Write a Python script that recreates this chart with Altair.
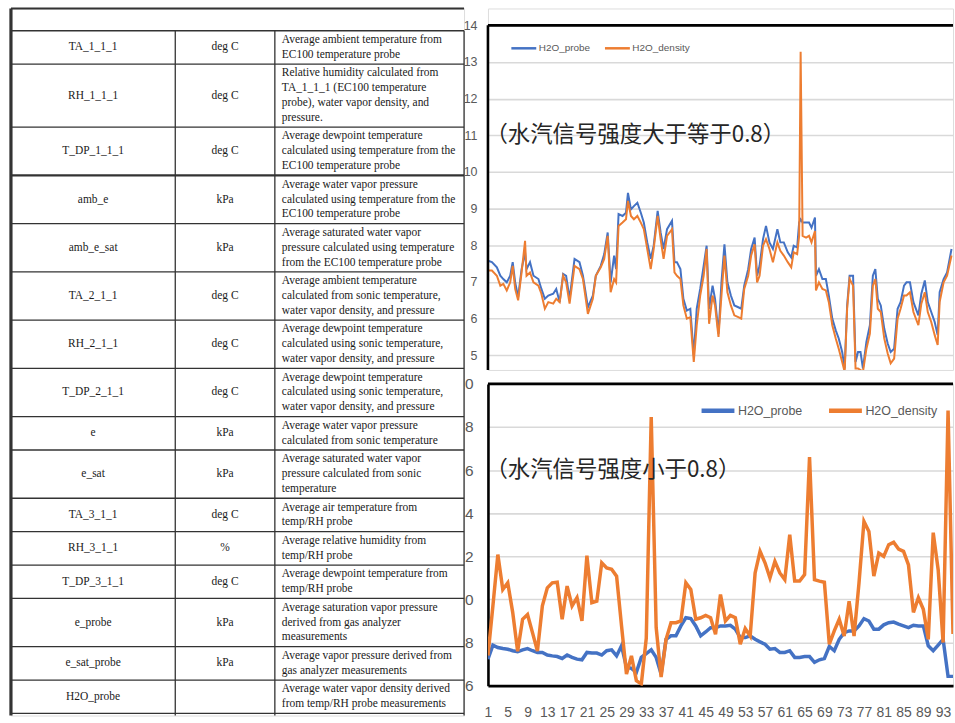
import altair as alt
import pandas as pd

# ---------------- variable table ----------------
NAMES = ["TA_1_1_1", "RH_1_1_1", "T_DP_1_1_1", "amb_e", "amb_e_sat", "TA_2_1_1",
         "RH_2_1_1", "T_DP_2_1_1", "e", "e_sat", "TA_3_1_1", "RH_3_1_1",
         "T_DP_3_1_1", "e_probe", "e_sat_probe", "H2O_probe"]
UNITS = ["deg C", "deg C", "deg C", "kPa", "kPa", "deg C", "deg C", "deg C",
         "kPa", "kPa", "deg C", "%", "deg C", "kPa", "kPa", ""]
DESCRIPTIONS = [
    ["Average ambient temperature from", "EC100 temperature probe"],
    ["Relative humidity calculated from", "TA_1_1_1 (EC100 temperature",
     "probe), water vapor density, and", "pressure."],
    ["Average dewpoint temperature", "calculated using temperature from the",
     "EC100 temperature probe"],
    ["Average water vapor pressure", "calculated using temperature from the",
     "EC100 temperature probe"],
    ["Average saturated water vapor", "pressure calculated using temperature",
     "from the EC100 temperature probe"],
    ["Average ambient temperature", "calculated from sonic temperature,",
     "water vapor density, and pressure"],
    ["Average dewpoint temperature", "calculated using sonic temperature,",
     "water vapor density, and pressure"],
    ["Average dewpoint temperature", "calculated using sonic temperature,",
     "water vapor density, and pressure"],
    ["Average water vapor pressure", "calculated from sonic temperature"],
    ["Average saturated water vapor", "pressure calculated from sonic",
     "temperature"],
    ["Average air temperature from", "temp/RH probe"],
    ["Average relative humidity from", "temp/RH probe"],
    ["Average dewpoint temperature from", "temp/RH probe"],
    ["Average saturation vapor pressure", "derived from gas analyzer",
     "measurements"],
    ["Average vapor pressure derived from", "gas analyzer measurements"],
    ["Average water vapor density derived", "from temp/RH probe measurements"],
]

# ---------------- signal strength >= 0.8 (dense record) ----------------
DAYS_HI = [1.0, 1.8, 2.8, 3.5, 4.1, 4.8, 5.5, 6.0, 6.5, 7.1, 7.8, 8.5, 8.8, 9.5,
           10.2, 11.2, 11.8, 12.5, 13.2, 14.2, 14.8, 15.5, 16.2, 16.8, 17.5, 18.5,
           19.5, 20.2, 21.2, 22.2, 22.8, 23.8, 24.5, 25.2, 25.8, 26.5, 26.9, 27.4,
           28.2, 28.9, 29.3, 29.9, 30.5, 31.2, 31.9, 32.5, 33.2, 33.9, 34.5, 35.3,
           35.9, 36.5, 37.2, 38.2, 38.7, 39.2, 39.9, 40.5, 41.2, 41.9, 42.6, 43.2,
           43.9, 44.6, 45.2, 45.7, 46.4, 46.9, 47.6, 48.2, 48.8, 49.4, 50.1, 50.8,
           51.6, 52.2, 52.8, 53.6, 54.2, 54.9, 55.4, 55.9, 56.6, 57.2, 57.9, 58.6,
           59.5, 60.1, 60.8, 61.6, 62.3, 62.8, 63.5, 63.9, 64.2, 64.6, 65.3, 65.9,
           66.4, 67.1, 67.3, 67.9, 68.6, 69.3, 69.9, 70.6, 71.3, 71.9, 72.6, 73.1,
           73.6, 74.1, 74.8, 75.3, 75.8, 76.3, 76.8, 77.5, 78.2, 78.8, 79.3, 79.8,
           80.4, 81.1, 81.8, 82.4, 83.1, 83.8, 84.4, 85.1, 85.6, 86.3, 87.0, 88.0,
           88.6, 89.3, 89.9, 90.6, 91.3, 91.9, 92.3, 93.1, 93.8, 94.7]
PROBE_HI = [7.58, 7.54, 7.40, 7.17, 7.08, 6.99, 7.17, 7.54, 6.99, 6.59, 7.35, 7.81,
            7.35, 7.54, 7.17, 7.08, 6.81, 6.54, 6.63, 6.68, 6.81, 6.45, 7.22, 7.17,
            6.54, 7.63, 7.54, 7.17, 6.31, 6.63, 7.17, 7.44, 7.76, 8.35, 6.99, 7.72,
            7.35, 8.85, 8.80, 8.89, 9.43, 8.98, 9.07, 9.16, 8.89, 8.62, 8.08, 7.63,
            7.99, 8.94, 8.35, 7.90, 8.44, 8.67, 7.54, 7.54, 7.35, 6.54, 6.22, 6.27,
            5.00, 6.27, 6.81, 7.44, 7.99, 6.27, 6.90, 6.54, 5.59, 6.99, 8.03, 6.99,
            6.63, 6.36, 6.31, 6.27, 6.90, 7.35, 7.90, 8.21, 7.17, 7.44, 8.17, 8.53,
            8.08, 7.90, 8.44, 8.08, 8.08, 7.81, 7.67, 7.99, 7.94, 8.62, 8.71, 8.62,
            8.62, 8.62, 8.48, 8.76, 7.17, 7.35, 7.08, 7.08, 6.63, 6.00, 5.68, 5.46,
            5.09, 4.64, 6.36, 7.17, 7.17, 4.82, 5.09, 5.09, 4.64, 5.37, 5.82, 7.17,
            7.35, 6.54, 6.36, 5.73, 5.32, 5.09, 5.18, 6.27, 6.45, 6.90, 6.99, 6.99,
            6.45, 6.09, 6.68, 7.04, 6.45, 6.18, 5.91, 5.55, 6.72, 7.08, 7.26, 7.90]
DENSITY_HI = [7.31, 7.31, 7.17, 6.90, 6.95, 6.77, 6.99, 7.44, 6.81, 6.50, 7.26, 8.12,
              7.17, 7.26, 6.99, 6.90, 6.68, 6.27, 6.45, 6.41, 6.54, 6.45, 7.17, 6.99,
              6.41, 7.44, 7.35, 7.08, 6.13, 6.54, 7.17, 7.40, 7.63, 8.26, 6.72, 7.08,
              6.99, 8.53, 8.62, 8.71, 9.21, 8.80, 8.71, 8.80, 8.62, 8.44, 7.90, 7.35,
              7.90, 8.80, 8.17, 7.63, 8.26, 8.44, 7.26, 7.17, 7.08, 6.36, 6.00, 6.04,
              4.82, 5.82, 6.63, 7.17, 7.90, 5.86, 6.63, 6.36, 5.50, 6.63, 7.72, 6.72,
              6.36, 6.09, 6.04, 6.00, 6.81, 7.17, 7.72, 8.03, 6.99, 7.17, 7.99, 8.17,
              7.90, 7.54, 8.08, 7.85, 7.72, 7.54, 7.40, 7.81, 7.76, 8.26, 13.28, 8.26,
              8.21, 8.26, 8.08, 8.39, 6.77, 6.99, 6.81, 6.77, 6.45, 5.82, 5.46, 5.18,
              4.82, 4.55, 6.27, 7.08, 6.90, 4.64, 4.64, 4.60, 4.55, 5.18, 5.59, 6.90,
              7.08, 6.27, 6.18, 5.46, 5.05, 4.78, 4.91, 6.00, 6.27, 6.63, 6.63, 6.72,
              6.18, 5.82, 6.41, 6.72, 6.18, 5.91, 5.55, 5.28, 6.45, 6.99, 7.17, 7.72]

# ---------------- signal strength < 0.8 (daily) ----------------
DAYS_LO = list(range(1, 96))
PROBE_LO = [7.23, 7.88, 7.77, 7.72, 7.69, 7.62, 7.57, 7.66, 7.72, 7.62, 7.54, 7.54,
            7.42, 7.38, 7.35, 7.26, 7.42, 7.31, 7.23, 7.20, 7.54, 7.51, 7.51, 7.42,
            7.62, 7.66, 7.38, 7.85, 6.85, 6.80, 6.62, 7.31, 7.49, 7.66, 7.31, 6.54,
            8.15, 8.31, 8.31, 8.77, 9.15, 9.11, 8.77, 8.31, 8.49, 8.69, 8.69, 8.77,
            8.77, 8.80, 8.62, 8.23, 8.23, 8.31, 8.15, 8.03, 7.92, 7.69, 7.72, 7.54,
            7.54, 7.62, 7.31, 7.31, 7.35, 7.35, 7.08, 7.20, 7.26, 7.82, 7.62, 8.15,
            8.46, 8.54, 8.54, 8.77, 9.11, 9.00, 8.62, 8.62, 8.82, 8.92, 8.95, 8.85,
            8.77, 8.69, 8.80, 8.77, 8.77, 7.85, 7.62, 7.88, 8.15, 6.43, 6.43]
DENSITY_LO = [7.40, 9.70, 12.08, 10.46, 10.77, 9.40, 7.60, 9.08, 9.30, 8.46, 7.60, 9.70,
              10.54, 10.77, 10.80, 9.08, 10.62, 9.70, 10.08, 9.00, 12.03, 9.85, 9.92,
              11.70, 11.46, 11.40, 11.08, 8.77, 6.54, 7.38, 6.23, 6.08, 8.20, 18.46,
              8.70, 6.40, 8.15, 8.92, 8.92, 9.00, 10.77, 10.46, 9.08, 9.15, 9.26, 9.15,
              8.38, 10.23, 9.00, 9.26, 9.15, 7.92, 8.65, 8.30, 11.23, 12.23, 11.70,
              11.00, 11.77, 11.23, 10.92, 13.00, 10.85, 10.85, 11.15, 16.60, 10.92,
              10.85, 10.80, 7.92, 8.54, 9.08, 8.30, 9.92, 8.30, 10.77, 13.62, 13.15,
              11.08, 12.15, 12.00, 12.54, 12.65, 12.34, 12.23, 11.60, 9.40, 10.08,
              9.54, 8.15, 13.10, 11.38, 8.00, 18.77, 8.40]

SERIES = ["H2O_probe", "H2O_density"]
COLORS = ["#4472C4", "#ED7D31"]
NOTE_HI = "（水汽信号强度大于等于0.8）"
NOTE_LO = "（水汽信号强度小于0.8）"
Y_TICKS_HI = list(range(5, 15))
Y_TICKS_LO = list(range(6, 21, 2))
X_TICKS_LO = list(range(1, 95, 4))

assert len(DAYS_HI) == len(PROBE_HI) == len(DENSITY_HI)
assert len(DAYS_LO) == len(PROBE_LO) == len(DENSITY_LO)

SANS = "Liberation Sans, Arial, sans-serif"
SERIF = "Liberation Serif, Times New Roman, serif"
CJK = "Noto Sans CJK SC"
AXIS_GREY = "#595959"
GRID_GREY = "#d9d9d9"

# ---------------- table geometry (in text-line units) ----------------
HEADER_GAP = 1.5      # blank band above the first row
ROW_PAD = 0.25        # vertical padding added to every row
TAIL = 0.14           # border overhang below the last row
COL_EDGES = [0, 165, 265, 455]
TABLE_W, TABLE_H = 455, 710

tops, bottoms = [], []
cursor = HEADER_GAP
for lines in DESCRIPTIONS:
    tops.append(cursor)
    cursor += len(lines) + ROW_PAD
    bottoms.append(cursor)
TOTAL = cursor + TAIL

cells = pd.DataFrame({
    "name": NAMES, "unit": UNITS,
    "mid": [(t + b) / 2 for t, b in zip(tops, bottoms)],
})
desc_rows = []
for top, lines in zip(tops, DESCRIPTIONS):
    for k, line in enumerate(lines):
        desc_rows.append({"line": line, "y": top + ROW_PAD / 2 + k + 0.5})
desc = pd.DataFrame(desc_rows)

rules = []
rules.append({"x": 0, "x2": COL_EDGES[-1], "y": 0, "y2": 0, "w": 2.0})
rules.append({"x": 0, "x2": 0, "y": 0, "y2": TOTAL, "w": 3.2})
rules.append({"x": COL_EDGES[0], "x2": COL_EDGES[-1], "y": tops[0], "y2": tops[0], "w": 1.3})
for i, b in enumerate(bottoms):
    rules.append({"x": COL_EDGES[0], "x2": COL_EDGES[-1], "y": b, "y2": b,
                  "w": 2.2 if i == 2 else 1.3})
for xe in COL_EDGES[1:]:
    rules.append({"x": xe, "x2": xe, "y": tops[0], "y2": TOTAL, "w": 1.3})
rules = pd.DataFrame(rules)

tx = alt.Scale(domain=[0, TABLE_W], nice=False, zero=False)
ty = alt.Scale(domain=[0, TOTAL], nice=False, zero=False, reverse=True)

grid_lines = alt.Chart(rules).mark_rule(color="#333333").encode(
    x=alt.X("x:Q", scale=tx, axis=None), x2="x2:Q",
    y=alt.Y("y:Q", scale=ty, axis=None), y2="y2:Q",
    strokeWidth=alt.StrokeWidth("w:Q", scale=None),
)
name_text = alt.Chart(cells).mark_text(
    font=SERIF, fontSize=11.5, color="#1a1a1a", align="center", baseline="middle"
).encode(
    x=alt.datum((COL_EDGES[0] + COL_EDGES[1]) / 2, scale=tx, axis=None),
    y=alt.Y("mid:Q", scale=ty, axis=None), text="name:N",
)
unit_text = alt.Chart(cells).mark_text(
    font=SERIF, fontSize=11.5, color="#1a1a1a", align="center", baseline="middle"
).encode(
    x=alt.datum((COL_EDGES[1] + COL_EDGES[2]) / 2, scale=tx, axis=None),
    y=alt.Y("mid:Q", scale=ty, axis=None), text="unit:N",
)
desc_text = alt.Chart(desc).mark_text(
    font=SERIF, fontSize=11.5, color="#1a1a1a", align="left", baseline="middle"
).encode(
    x=alt.datum(COL_EDGES[2] + 7, scale=tx, axis=None),
    y=alt.Y("y:Q", scale=ty, axis=None), text="line:N",
)
table = alt.layer(grid_lines, name_text, unit_text, desc_text).properties(
    width=TABLE_W, height=TABLE_H
)

# ---------------- line charts ----------------
color_scale = alt.Scale(domain=SERIES, range=COLORS)
X_DOMAIN = [1, 95]
PLOT_W = 467
FRAME = 2.6


def long_frame(days, probe, density):
    return pd.DataFrame({
        "day": list(days) * 2,
        "value": list(probe) + list(density),
        "series": [SERIES[0]] * len(days) + [SERIES[1]] * len(days),
    })


hi = long_frame(DAYS_HI, PROBE_HI, DENSITY_HI)
lo = long_frame(DAYS_LO, PROBE_LO, DENSITY_LO)

# upper panel: the view reaches a little above its 14 frame line
HI_DOMAIN = [4.6, 14.46]
x_hi = alt.X("day:Q", scale=alt.Scale(domain=X_DOMAIN, nice=False, zero=False), axis=None)
y_hi = alt.Y("value:Q", scale=alt.Scale(domain=HI_DOMAIN, nice=False, zero=False),
             axis=alt.Axis(values=Y_TICKS_HI, tickCount=len(Y_TICKS_HI), title=None,
                           ticks=False, domain=False,
                           gridColor=GRID_GREY, gridWidth=1.6, labelOverlap=False,
                           labelFont=SANS, labelFontSize=12.5,
                           labelColor=AXIS_GREY, labelPadding=11))
legend_hi = alt.Legend(orient="none", legendX=22, legendY=26, direction="horizontal",
                       title=None, symbolType="stroke", symbolSize=625,
                       symbolStrokeWidth=2.5, labelFont=SANS, labelFontSize=10,
                       labelColor=AXIS_GREY, labelOffset=1, columnPadding=9)
c_hi = alt.Color("series:N", scale=color_scale, legend=legend_hi)

top_lines = [
    alt.Chart(hi).transform_filter(alt.datum.series == s)
    .mark_line(strokeWidth=2, clip=True)
    .encode(x=x_hi, y=y_hi, color=c_hi)
    for s in SERIES
]
hi_edges = pd.DataFrame({"day": [X_DOMAIN[0], X_DOMAIN[0]], "day2": [X_DOMAIN[0], X_DOMAIN[1]],
                         "value": [HI_DOMAIN[0], Y_TICKS_HI[-1]],
                         "value2": [Y_TICKS_HI[-1], Y_TICKS_HI[-1]]})
top_frame = alt.Chart(hi_edges).mark_rule(color="black", strokeWidth=FRAME).encode(
    x="day:Q", x2="day2:Q", y="value:Q", y2="value2:Q"
)
top_note = alt.Chart(pd.DataFrame({"day": [2.3], "value": [11.0], "note": [NOTE_HI]})).mark_text(
    align="left", baseline="middle", font=CJK, fontSize=22.5, color="#262626", dx=-9
).encode(x="day:Q", y="value:Q", text="note:N")
top_chart = alt.layer(*top_lines, top_frame, top_note).properties(width=PLOT_W, height=363)

x_lo = alt.X("day:Q", scale=alt.Scale(domain=X_DOMAIN, nice=False, zero=False),
             axis=alt.Axis(values=X_TICKS_LO, tickCount=len(X_TICKS_LO), title=None,
                           ticks=False, grid=False,
                           domainColor="black", domainWidth=FRAME,
                           labelFont=SANS, labelFontSize=14, labelColor=AXIS_GREY,
                           labelPadding=20, labelOverlap=False, labelFlush=False))
y_lo = alt.Y("value:Q", scale=alt.Scale(domain=[6, 20], nice=False, zero=False),
             axis=alt.Axis(values=Y_TICKS_LO, tickCount=len(Y_TICKS_LO), title=None,
                           ticks=False, domainColor="black", domainWidth=FRAME,
                           gridColor=GRID_GREY, gridWidth=1.6, labelOverlap=False,
                           labelExpr="substring(datum.label, length(datum.label) - 1)",
                           labelFont=SANS, labelFontSize=15.5,
                           labelColor=AXIS_GREY, labelPadding=15))
legend_lo = alt.Legend(orient="none", legendX=212, legendY=8, direction="horizontal",
                       title=None, symbolType="stroke", symbolSize=1089,
                       symbolStrokeWidth=4.5, labelFont=SANS, labelFontSize=12.5,
                       labelColor=AXIS_GREY, labelOffset=1, columnPadding=17)
c_lo = alt.Color("series:N", scale=color_scale, legend=legend_lo)

bottom_lines = [
    alt.Chart(lo).transform_filter(alt.datum.series == s)
    .mark_line(strokeWidth=3.5, clip=True)
    .encode(x=x_lo, y=y_lo, color=c_lo)
    for s in SERIES
]
bottom_top_edge = alt.Chart(pd.DataFrame({"value": [20]})).mark_rule(
    color="black", strokeWidth=FRAME
).encode(y="value:Q")
bottom_note = alt.Chart(pd.DataFrame({"day": [2.3], "value": [16.0], "note": [NOTE_LO]})).mark_text(
    align="left", baseline="middle", font=CJK, fontSize=22.5, color="#262626", dx=-9
).encode(x="day:Q", y="value:Q", text="note:N")
bottom_chart = alt.layer(*bottom_lines, bottom_top_edge, bottom_note).properties(
    width=PLOT_W, height=303
)

right = alt.vconcat(top_chart, bottom_chart, spacing=14, bounds="flush") \
    .resolve_scale(color="independent").resolve_legend(color="independent")

chart = alt.hconcat(table, right, spacing=24, bounds="flush").properties(
    padding={"left": 8, "top": 4, "right": 0, "bottom": 0}
).configure_view(stroke=None).configure(background="white")

chart.save("out.html", embed_options={"renderer": "svg", "actions": False})
